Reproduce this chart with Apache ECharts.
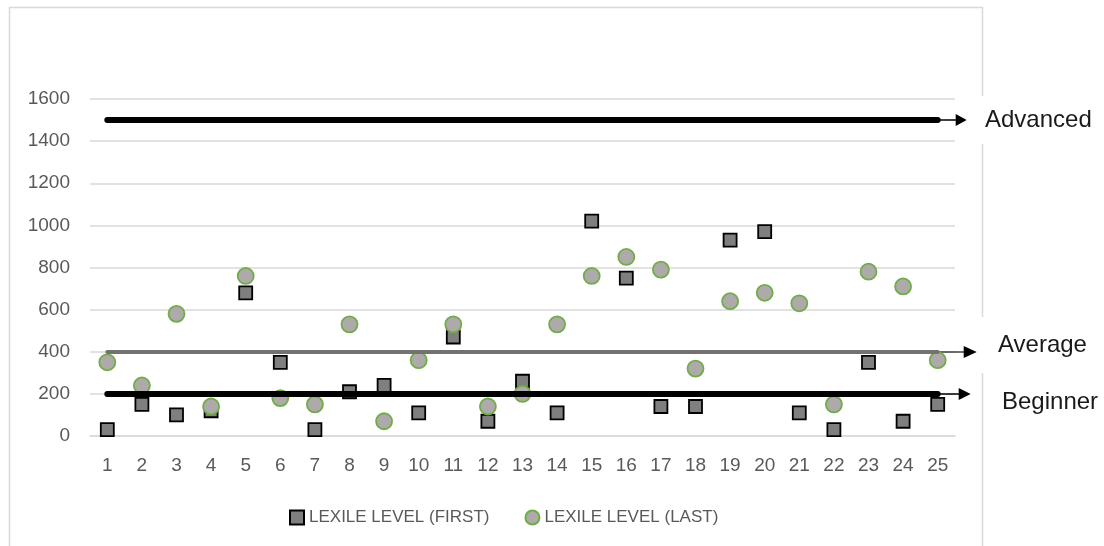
<!DOCTYPE html>
<html>
<head>
<meta charset="utf-8">
<script src="https://cdn.jsdelivr.net/npm/echarts@6/dist/echarts.min.js"></script>
<style>
  html, body { margin: 0; padding: 0; background: #fff; }
  #chart { width: 1104px; height: 546px; }
</style>
</head>
<body>
<div id="chart"></div>
<script>
// Students 1..25 and their first / last Lexile measurements
const students = ['1','2','3','4','5','6','7','8','9','10','11','12','13',
                  '14','15','16','17','18','19','20','21','22','23','24','25'];
const lexileFirst = [30, 150, 100, 120, 680, 350, 30, 210, 240, 110, 470, 70, 260,
                     110, 1020, 750, 140, 140, 930, 970, 110, 30, 350, 70, 150];
const lexileLast  = [350, 240, 580, 140, 760, 180, 150, 530, 70, 360, 530, 140, 200,
                     530, 760, 850, 790, 320, 640, 680, 630, 150, 780, 710, 360];

// Reading-level benchmarks
const levelNames  = ['Advanced', 'Average', 'Beginner'];
const levelValues = [1500, 400, 200];

const FONT = '"Liberation Sans", Arial, sans-serif';
const levelStyle = [
  { color: '#000000', width: 6, tailFrom: 0,   tailLen: 18, head: 11, labelX: 985,  labelDy: 0,  pad: [12, 12, 12, 4] },
  { color: '#767171', width: 4, tailFrom: -26, tailLen: 26, head: 13, labelX: 998,  labelDy: -7, pad: [16, 6, 16, 18] },
  { color: '#000000', width: 6, tailFrom: 0,   tailLen: 21, head: 12, labelX: 1002, labelDy: 8,  pad: null }
];

const chart = echarts.init(document.getElementById('chart'), null, { renderer: 'canvas' });

const option = {
  animation: false,
  backgroundColor: '#ffffff',
  textStyle: { fontFamily: FONT },
  grid: { left: 90, right: 149, top: 99, bottom: 110, containLabel: false },
  legend: {
    left: 284, top: 504,
    itemWidth: 14, itemHeight: 14, itemGap: 35,
    textStyle: { color: '#595959', fontSize: 17, fontFamily: FONT },
    data: ['LEXILE LEVEL (FIRST)', 'LEXILE LEVEL (LAST)']
  },
  xAxis: {
    type: 'category',
    data: students,
    boundaryGap: true,
    axisLine: { show: true, lineStyle: { color: '#d9d9d9', width: 1.5 } },
    axisTick: { show: false },
    axisLabel: { color: '#595959', fontSize: 19, margin: 20, fontFamily: FONT },
    splitLine: { show: false }
  },
  yAxis: {
    type: 'value',
    min: 0, max: 1600, interval: 200,
    axisLine: { show: false },
    axisTick: { show: false },
    axisLabel: { color: '#595959', fontSize: 19, margin: 20, fontFamily: FONT, formatter: v => String(v) },
    splitLine: { lineStyle: { color: '#d9d9d9', width: 1.5 } }
  },
  series: [
    {
      name: 'benchmarks',
      type: 'line',
      data: [],
      z: 1,
      silent: true,
      markLine: {
        silent: true,
        symbol: 'none',
        label: { show: false },
        emphasis: { disabled: true },
        data: levelValues.map((v, i) => [
          { coord: [students[0], v], lineStyle: { color: levelStyle[i].color, width: levelStyle[i].width, type: 'solid', cap: 'round' } },
          { coord: [students[students.length - 1], v] }
        ])
      }
    },
    {
      name: 'LEXILE LEVEL (FIRST)',
      type: 'scatter',
      z: 3,
      symbol: 'rect',
      symbolSize: 13,
      data: lexileFirst,
      itemStyle: { color: '#7f7f7f', borderColor: '#000000', borderWidth: 1.8, opacity: 1 }
    },
    {
      name: 'LEXILE LEVEL (LAST)',
      type: 'scatter',
      z: 4,
      symbol: 'circle',
      symbolSize: 16,
      data: lexileLast,
      itemStyle: { color: '#aeaaaa', borderColor: '#70ad47', borderWidth: 1.8, opacity: 1 }
    }
  ]
};

chart.setOption(option);

// Arrow tails, benchmark names and the outer frame, positioned from the chart's own scales
const graphics = [{
  type: 'rect',
  z: 0,
  silent: true,
  shape: { x: 9.5, y: 7.5, width: 973, height: 600 },
  style: { fill: 'none', stroke: '#d9d9d9', lineWidth: 1.5 }
}];

levelValues.forEach((v, i) => {
  const s = levelStyle[i];
  const p = chart.convertToPixel({ gridIndex: 0 }, [students[students.length - 1], v]);
  const x0 = p[0] + s.tailFrom;
  const x1 = p[0] + s.tailLen;
  const y = Math.round(p[1]);
  graphics.push({
    type: 'line', z: 1, silent: true,
    shape: { x1: x0, y1: y, x2: x1 + 1, y2: y },
    style: { stroke: i === 1 ? '#3f3f3f' : '#000000', lineWidth: 1.5 }
  });
  graphics.push({
    type: 'polygon', z: 1, silent: true,
    shape: { points: [[x1, y - 6], [x1 + s.head, y], [x1, y + 6]] },
    style: { fill: '#000000' }
  });
  const padLeft = s.pad ? s.pad[3] : 0;
  graphics.push({
    type: 'text', z: 10, silent: true,
    style: {
      x: s.labelX - padLeft, y: y + s.labelDy,
      text: levelNames[i],
      font: '24px ' + FONT,
      fill: '#1a1a1a',
      verticalAlign: 'middle',
      align: 'left',
      backgroundColor: s.pad ? '#ffffff' : 'transparent',
      padding: s.pad || 0
    }
  });
});

chart.setOption({ graphic: { elements: graphics } });
</script>
</body>
</html>
